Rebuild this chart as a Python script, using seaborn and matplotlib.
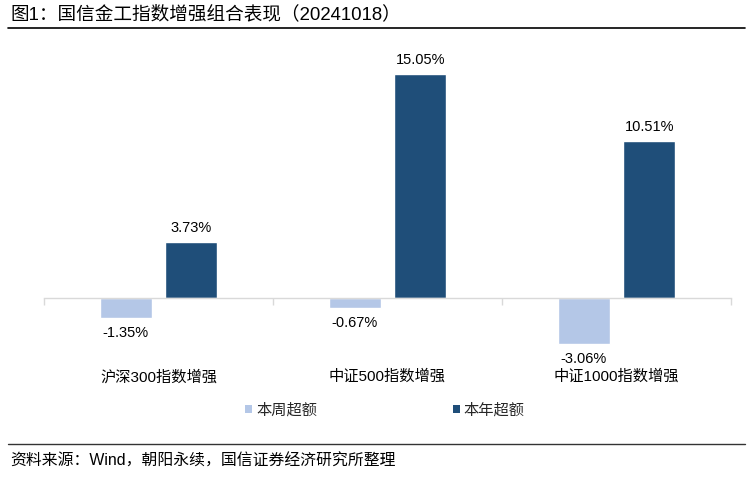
import matplotlib
matplotlib.use("Agg")
import matplotlib.pyplot as plt
from matplotlib.patches import Patch
from matplotlib.lines import Line2D
import seaborn as sns
import pandas as pd

categories = ["沪深300指数增强", "中证500指数增强", "中证1000指数增强"]
series_names = ["本周超额", "本年超额"]
weekly = [-1.35, -0.67, -3.06]
yearly = [3.73, 15.05, 10.51]
colors = ["#B4C7E7", "#1F4E79"]

title = "图1：国信金工指数增强组合表现（20241018）"
source = "资料来源：Wind，朝阳永续，国信证券经济研究所整理"

df = pd.DataFrame({
    "cat": categories * 2,
    "series": [series_names[0]] * 3 + [series_names[1]] * 3,
    "val": weekly + yearly,
})

sns.set_theme(style="white")
plt.rcParams["font.family"] = ["Liberation Sans", "Noto Sans CJK SC"]

W, H = 753, 484
fig = plt.figure(figsize=(W / 100, H / 100), dpi=100)
ymin, ymax = -4.0, 17.0
ppu = 14.9
top_px = 298 - ymax * ppu
bot_px = 298 - ymin * ppu
ax = fig.add_axes([44 / W, 1 - bot_px / H, (731 - 44) / W, (bot_px - top_px) / H])

sns.barplot(data=df, x="cat", y="val", hue="series", palette=colors,
            width=0.57, gap=0.2, ax=ax, legend=False, saturation=1)
ax.set_ylim(ymin, ymax)
ax.set_xlim(-0.5, 2.5)
for s in ["top", "right", "left"]:
    ax.spines[s].set_visible(False)
ax.spines["bottom"].set_position(("data", 0))
ax.spines["bottom"].set_color("#D9D9D9")
ax.spines["bottom"].set_linewidth(1.0)
ax.set_yticks([])
ax.set_xticks([-0.5, 0.5, 1.5, 2.5])
ax.set_xticklabels([])
ax.tick_params(axis="x", direction="out", length=5, color="#D9D9D9", width=1, bottom=True)
ax.set_xlabel("")
ax.set_ylabel("")

for container in ax.containers:
    for bar in container:
        h = bar.get_height()
        xc = bar.get_x() + bar.get_width() / 2
        if h >= 0:
            ax.annotate(f"{h:.2f}%", (xc, h), xytext=(0, 5), textcoords="offset points",
                        ha="center", va="bottom", fontsize=10.5, color="#000000")
        else:
            ax.annotate(f"{h:.2f}%", (xc, h), xytext=(0, -6), textcoords="offset points",
                        ha="center", va="top", fontsize=10.5, color="#000000")

for i, c in enumerate(categories):
    ax.text(i, -(377 - 298) / ppu, c, ha="center", va="center", fontsize=11,
            color="#000000", clip_on=False)

handles = [Patch(facecolor=colors[0], edgecolor="none"), Patch(facecolor=colors[1], edgecolor="none")]
fig.legend(handles, series_names, loc="center", bbox_to_anchor=(385 / W, 1 - 410 / H),
           ncol=2, frameon=False, fontsize=11, handlelength=0.45, handleheight=0.45,
           handletextpad=0.25, columnspacing=8.9)

fig.text(10 / W, 1 - 14 / H, title, ha="left", va="center", fontsize=13.4, color="#000000")
fig.add_artist(Line2D([8 / W, 745 / W], [1 - 28 / H, 1 - 28 / H], color="#000000", lw=1.2))
fig.add_artist(Line2D([8 / W, 745 / W], [1 - 444 / H, 1 - 444 / H], color="#333333", lw=1.0))
fig.text(10 / W, 1 - 461 / H, source, ha="left", va="center", fontsize=11.4, color="#000000")

fig.savefig("out.png", dpi=100)
